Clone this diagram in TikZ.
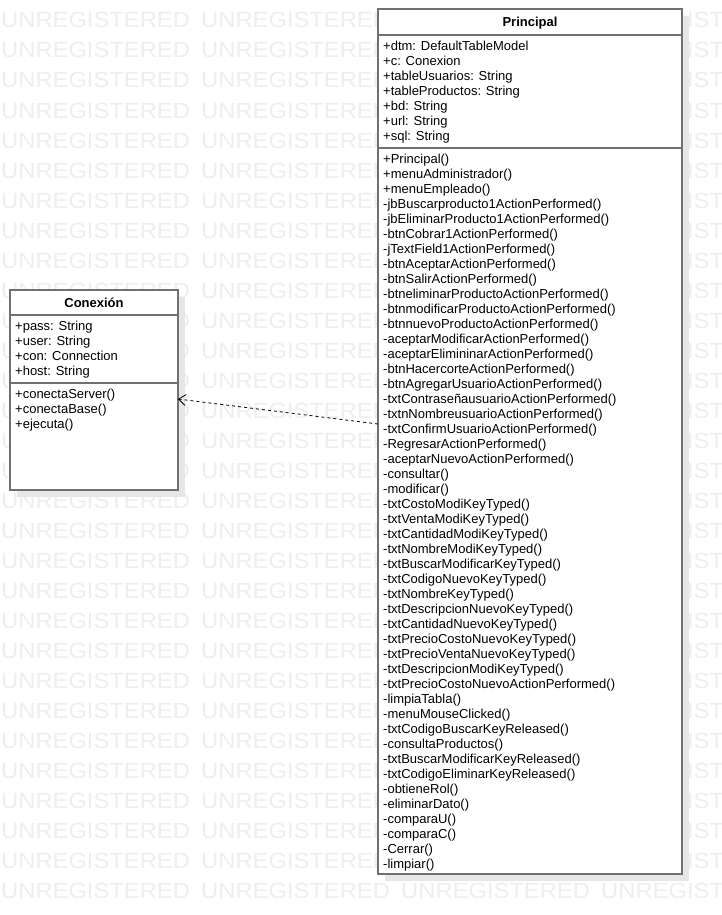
\documentclass[tikz,border=0pt]{standalone}
\usepackage{fontspec}
\usepackage{graphicx}
\setmainfont{Liberation Sans}
\usetikzlibrary{arrows.meta}
\definecolor{wmark}{HTML}{EEEEEE}
\definecolor{shadowc}{HTML}{E6E6E6}
\definecolor{borderc}{HTML}{707070}
\tikzset{
  classbox/.style={draw=borderc, line width=1.6pt, fill=white, rectangle, anchor=north west, outer sep=0pt, inner sep=0pt},
  shadowbox/.style={fill=shadowc, draw=none, rectangle, anchor=north west, outer sep=0pt, inner sep=0pt},
  member/.style={anchor=base west, inner sep=0pt, font=\fontsize{13pt}{13pt}\selectfont, text=black},
  title/.style={anchor=base, inner sep=0pt, font=\fontsize{13pt}{13pt}\selectfont\bfseries, text=black},
  sepline/.style={draw=borderc, line width=1.6pt},
  wm/.style={anchor=base west, inner sep=0pt, text=wmark, font=\fontsize{22pt}{22pt}\selectfont},
  dep/.style={draw=black, line width=0.8pt, dash pattern=on 3pt off 3pt, -{Straight Barb[length=7pt,width=11pt]}}
}
\begin{document}
\begin{tikzpicture}[x=1pt,y=-1pt]
\useasboundingbox (0,0) rectangle (722,915);
\fill[white] (0,0) rectangle (722,915);
% watermark
\foreach \r in {0,...,29}{
  \foreach \c in {0,1,2,3}{
    \node[wm] (wm-\r-\c) at (\c*200+1, 28+\r*30) {\scalebox{1.08}[1]{UNREGISTERED}};
  }
}
% shadows
\node[shadowbox, minimum width=304pt, minimum height=865pt] (principalShadow) at (385,16) {};
\node[shadowbox, minimum width=168pt, minimum height=200pt] (conexionShadow) at (17,297) {};
% Principal class
\node[classbox, minimum width=304pt, minimum height=865pt] (principal) at (378,9) {};
\draw[sepline] (principal.west |- 0,35) coordinate (p1) -- (principal.east |- 0,35) coordinate (p2);
\draw[sepline] (principal.west |- 0,148) coordinate (p3) -- (principal.east |- 0,148) coordinate (p4);
\node[title] (principalTitle) at (530,27) {Principal};
\foreach [count=\i from 0] \t in {
  +dtm: DefaultTableModel,
  +c: Conexion,
  +tableUsuarios: String,
  +tableProductos: String,
  +bd: String,
  +url: String,
  +sql: String}{
  \node[member] (pattr\i) at (383, 50.5+\i*15) {\t};
}
\foreach [count=\i from 0] \t in {
  +Principal(),
  +menuAdministrador(),
  +menuEmpleado(),
  -jbBuscarproducto1ActionPerformed(),
  -jbEliminarProducto1ActionPerformed(),
  -btnCobrar1ActionPerformed(),
  -jTextField1ActionPerformed(),
  -btnAceptarActionPerformed(),
  -btnSalirActionPerformed(),
  -btneliminarProductoActionPerformed(),
  -btnmodificarProductoActionPerformed(),
  -btnnuevoProductoActionPerformed(),
  -aceptarModificarActionPerformed(),
  -aceptarElimininarActionPerformed(),
  -btnHacercorteActionPerformed(),
  -btnAgregarUsuarioActionPerformed(),
  -txtContraseñausuarioActionPerformed(),
  -txtnNombreusuarioActionPerformed(),
  -txtConfirmUsuarioActionPerformed(),
  -RegresarActionPerformed(),
  -aceptarNuevoActionPerformed(),
  -consultar(),
  -modificar(),
  -txtCostoModiKeyTyped(),
  -txtVentaModiKeyTyped(),
  -txtCantidadModiKeyTyped(),
  -txtNombreModiKeyTyped(),
  -txtBuscarModificarKeyTyped(),
  -txtCodigoNuevoKeyTyped(),
  -txtNombreKeyTyped(),
  -txtDescripcionNuevoKeyTyped(),
  -txtCantidadNuevoKeyTyped(),
  -txtPrecioCostoNuevoKeyTyped(),
  -txtPrecioVentaNuevoKeyTyped(),
  -txtDescripcionModiKeyTyped(),
  -txtPrecioCostoNuevoActionPerformed(),
  -limpiaTabla(),
  -menuMouseClicked(),
  -txtCodigoBuscarKeyReleased(),
  -consultaProductos(),
  -txtBuscarModificarKeyReleased(),
  -txtCodigoEliminarKeyReleased(),
  -obtieneRol(),
  -eliminarDato(),
  -comparaU(),
  -comparaC(),
  -Cerrar(),
  -limpiar()}{
  \node[member] (pmeth\i) at (383, 163.5+\i*15) {\t};
}
% Conexion class
\node[classbox, minimum width=168pt, minimum height=200pt] (conexion) at (10,290) {};
\draw[sepline] (conexion.west |- 0,315) coordinate (c1) -- (conexion.east |- 0,315) coordinate (c2);
\draw[sepline] (conexion.west |- 0,383) coordinate (c3) -- (conexion.east |- 0,383) coordinate (c4);
\node[title] (conexionTitle) at (94,307) {Conexión};
\foreach [count=\i from 0] \t in {
  +pass: String,
  +user: String,
  +con: Connection,
  +host: String}{
  \node[member] (cattr\i) at (15, 330.5+\i*15) {\t};
}
\foreach [count=\i from 0] \t in {
  +conectaServer(),
  +conectaBase(),
  +ejecuta()}{
  \node[member] (cmeth\i) at (15, 398.5+\i*15) {\t};
}
% dependency
\coordinate (depStart) at (principal.west |- 0,424);
\coordinate (depEnd) at (conexion.east |- 0,399);
\draw[dep] (depStart) -- (depEnd);
\end{tikzpicture}
\end{document}
